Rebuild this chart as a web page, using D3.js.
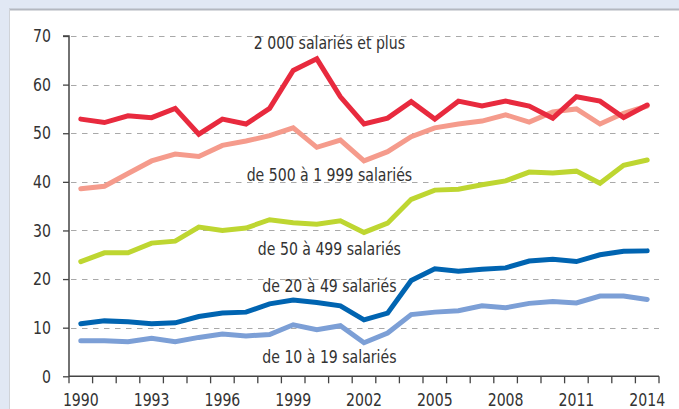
<!DOCTYPE html>
<html><head><meta charset="utf-8">
<script src="https://cdn.jsdelivr.net/npm/d3@7"></script>
<style>
html,body{margin:0;padding:0;background:#e1e8f4;}
svg{display:block;}
text{font-family:"DejaVu Sans Condensed","Liberation Sans Narrow","Liberation Sans",sans-serif;fill:#333;}
</style></head>
<body>
<svg id="chart" width="679" height="409"></svg>
<script>
const years = d3.range(1990, 2015);
const tickYears = [1990,1993,1996,1999,2002,2005,2008,2011,2014];
const yTicks = [0,10,20,30,40,50,60,70];
const s2000 = [52.9,52.2,53.6,53.2,55.1,49.8,52.9,51.9,55.1,62.9,65.3,57.5,51.9,53.1,56.5,52.9,56.6,55.6,56.6,55.6,53.1,57.5,56.6,53.2,55.8];
const s500 = [38.6,39.1,41.7,44.3,45.7,45.2,47.5,48.4,49.5,51.1,47.1,48.6,44.3,46.2,49.3,51.1,51.9,52.5,53.8,52.3,54.4,55.0,51.9,54.1,55.6];
const s50 = [23.6,25.4,25.4,27.4,27.8,30.7,30.0,30.5,32.2,31.6,31.3,32.0,29.6,31.5,36.4,38.3,38.5,39.4,40.2,42.0,41.8,42.2,39.7,43.4,44.5];
const s20 = [10.8,11.4,11.2,10.8,11.0,12.3,13.0,13.2,14.9,15.7,15.2,14.5,11.6,13.0,19.7,22.1,21.6,22.0,22.3,23.7,24.1,23.6,25.0,25.7,25.8];
const s10 = [7.3,7.3,7.1,7.8,7.1,8.0,8.7,8.3,8.6,10.6,9.6,10.4,6.9,8.9,12.7,13.2,13.5,14.5,14.1,15.0,15.4,15.1,16.5,16.5,15.8];
const seriesNames = ["2 000 salariés et plus","de 500 à 1 999 salariés","de 50 à 499 salariés","de 20 à 49 salariés","de 10 à 19 salariés"];
const seriesColors = ["#e82a3e","#f59b8c","#bed631","#0064b1","#7c9fd6"];
const seriesData = [s2000, s500, s50, s20, s10];
const labelValues = [67.4, 40.1, 25.0, 17.4, 2.7];

const SX = 0.87; // horizontal condensing of the text
const svg = d3.select("#chart");
// panel
svg.append("rect").attr("x",9).attr("y",10).attr("width",680).attr("height",410)
  .attr("fill","#fff");
svg.append("line").attr("x1",9).attr("x2",679).attr("y1",9.5).attr("y2",9.5)
  .attr("stroke","#b4b8c0").attr("stroke-width",2);
svg.append("line").attr("x1",9.5).attr("x2",9.5).attr("y1",9).attr("y2",409)
  .attr("stroke","#d0d3d8").attr("stroke-width",1);

const mLeft = 69, mRight = 659, mTop = 36, mBottom = 376.3;
const x = d3.scaleBand().domain(years).range([mLeft, mRight]);
const y = d3.scaleLinear().domain([0,70]).range([mBottom, mTop]);
const cx = d => x(d) + x.bandwidth()/2;

// gridlines
svg.append("g").selectAll("line").data(yTicks.filter(d=>d>0)).join("line")
  .attr("x1", mLeft+2).attr("x2", mRight)
  .attr("y1", d=>Math.round(y(d))+0.5).attr("y2", d=>Math.round(y(d))+0.5)
  .attr("stroke","#a9a9a9").attr("stroke-width",1.2).attr("stroke-dasharray","5.5,5.5");

// y axis
const yAxis = d3.axisLeft(y).tickValues(yTicks).tickSize(6).tickPadding(12);
const gy = svg.append("g").attr("transform",`translate(${mLeft},0)`).call(yAxis);
gy.attr("font-family",null).attr("font-size",18);
gy.select(".domain").attr("stroke","#444").attr("stroke-width",1.5).attr("d",`M-6,${mTop}H0V${mBottom}`);
gy.selectAll(".tick line").attr("stroke","#444").attr("stroke-width",1.3);
gy.selectAll(".tick text").attr("fill","#333").attr("x", -18/SX).attr("transform",`scale(${SX},1)`);

// x axis
const xEdge = d3.scaleLinear().domain([0, years.length]).range([mLeft, mRight]);
const gx = svg.append("g").attr("transform",`translate(0,${mBottom})`);
gx.append("line").attr("x1",mLeft).attr("x2",mRight).attr("stroke","#444").attr("stroke-width",1.5);
gx.selectAll(".tk").data(d3.range(years.length+1)).join("line").attr("class","tk")
  .attr("x1",d=>xEdge(d)).attr("x2",d=>xEdge(d)).attr("y1",0).attr("y2",7)
  .attr("stroke","#444").attr("stroke-width",1.3);
gx.selectAll("text").data(tickYears).join("text")
  .attr("transform",d=>`translate(${cx(d)},29.5) scale(${SX},1)`).attr("text-anchor","middle")
  .attr("font-size",18).text(d=>d);

// lines
const line = d3.line().x((d,i)=>cx(years[i])).y(d=>y(d));
svg.append("g").selectAll("path").data(seriesData.slice().reverse()).join("path")
  .attr("d", line).attr("fill","none")
  .attr("stroke",(d,i)=>seriesColors[seriesColors.length-1-i])
  .attr("stroke-width",5).attr("stroke-linejoin","miter").attr("stroke-linecap","round");

// labels
svg.append("g").selectAll("text").data(seriesNames).join("text")
  .attr("transform",(d,i)=>`translate(${cx(2001)-11},${y(labelValues[i])}) scale(${SX},1)`)
  .attr("text-anchor","middle")
  .attr("font-size",18).text(d=>d);
</script>
</body></html>
